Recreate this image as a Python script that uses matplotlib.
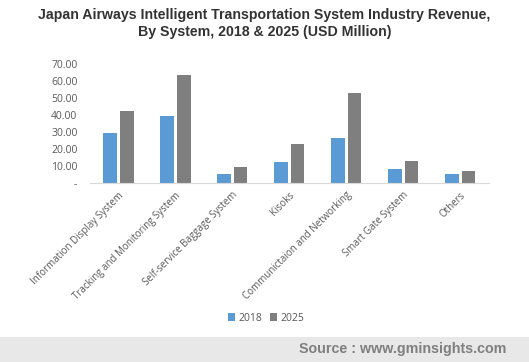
import matplotlib
matplotlib.use("Agg")
import matplotlib.pyplot as plt
import numpy as np
from matplotlib.patches import Rectangle

categories = ["Information Display System", "Tracking and Monitoring System",
              "Self-service Baggage System", "Kisoks", "Communictaion and Networking",
              "Smart Gate System", "Others"]
v2018 = [29.4, 39.4, 5.3, 12.2, 26.3, 8.2, 5.1]
v2025 = [42.3, 63.5, 9.4, 22.8, 52.8, 12.9, 7.0]
yticks = [0, 10, 20, 30, 40, 50, 60, 70]
ytick_labels = ["-", "10.00", "20.00", "30.00", "40.00", "50.00", "60.00", "70.00"]

plt.rcParams['font.family'] = ['Open Sans', 'DejaVu Sans']

fig = plt.figure(figsize=(5.29, 3.62), dpi=100)
ax = fig.add_axes([0.170, 0.4945, 0.754, 0.3285])

x = np.arange(len(categories))
w = 0.24
ax.bar(x - w/2 - 0.025, v2018, width=w, color="#5b9bd5", label="2018")
ax.bar(x + w/2 + 0.025, v2025, width=w, color="#7f7f7f", label="2025")

ax.set_xlim(-0.5, len(categories) - 0.5)
ax.set_ylim(0, 70)
ax.set_yticks(yticks)
ax.set_yticklabels(ytick_labels, fontsize=7.5, color="#595959")
ax.set_xticks(x)
ax.set_xticklabels(categories, rotation=45, ha="right", rotation_mode="anchor",
                   fontsize=7, color="#595959")
ax.tick_params(axis="y", length=0, pad=9)
ax.tick_params(axis="x", length=0, pad=5)
for s in ["top", "right", "left"]:
    ax.spines[s].set_visible(False)
ax.spines["bottom"].set_color("#d9d9d9")

fig.text(0.5, 0.958, "Japan Airways Intelligent Transportation System Industry Revenue,",
         ha="center", va="center", fontsize=10.2, fontweight="bold", color="#333333",
         family=["Liberation Sans", "DejaVu Sans"])
fig.text(0.5, 0.912, "By System, 2018 & 2025 (USD Million)",
         ha="center", va="center", fontsize=10.2, fontweight="bold", color="#333333",
         family=["Liberation Sans", "DejaVu Sans"])

leg = fig.legend(loc="center", bbox_to_anchor=(0.503, 0.121), ncol=2, frameon=False,
                 fontsize=7.5, handlelength=0.7, handleheight=0.7, columnspacing=0.8,
                 handletextpad=0.3)
for t in leg.get_texts():
    t.set_color("#595959")

fig.patches.append(Rectangle((0, 0), 1, 25/362, transform=fig.transFigure,
                             facecolor="#e8e8e8", edgecolor="none", zorder=0))
fig.text(0.958, 0.036, "Source : www.gminsights.com", ha="right", va="center",
         fontsize=10.3, fontweight="bold", color="#7f7f7f",
         family=["Liberation Sans", "DejaVu Sans"])

fig.savefig("out.png", dpi=100)
